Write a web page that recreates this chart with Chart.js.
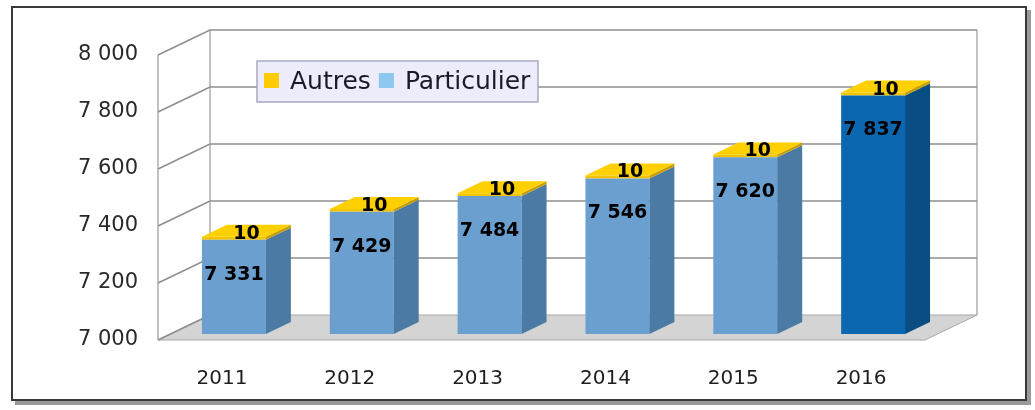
<!DOCTYPE html>
<html lang="fr">
<head>
<meta charset="utf-8">
<script src="https://cdn.jsdelivr.net/npm/chart.js@4/dist/chart.umd.min.js"></script>
<style>
html, body { margin: 0; padding: 0; background: #fff; }
#wrap { position: relative; width: 1035px; height: 410px; }
#frame { position: absolute; left: 11px; top: 6px; width: 1012px; height: 391px; border: 2px solid #3a3a3a; box-shadow: 4px 4px 0 #9a9a9a; pointer-events: none; }
canvas { position: absolute; left: 0; top: 0; }
</style>
</head>
<body>
<div id="wrap">
  <canvas id="chart" width="1035" height="410"></canvas>
  <div id="frame"></div>
</div>
<script>
// Données
const annees = ['2011', '2012', '2013', '2014', '2015', '2016'];
const particulier = [7331, 7429, 7484, 7546, 7620, 7837];
const autres = [10, 10, 10, 10, 10, 10];
const yTicks = [7000, 7200, 7400, 7600, 7800, 8000];

// Effet 3D (profondeur des murs, décalage des barres)
const depth = { dx: 52, dy: -25 };
const barShift = { dx: 12, dy: -6 };
const barDepth = { dx: 25, dy: -12 };

function fmt(v) {
    return String(v).replace(/\B(?=(\d{3})+(?!\d))/g, ' ');
}

// couleurs : la dernière année est en bleu foncé
const frontColors = annees.map((a, i) => i === annees.length - 1 ? '#0B68B0' : '#6B9FCF');
const sideColors = annees.map((a, i) => i === annees.length - 1 ? '#084D84' : '#4B7AA4');

const threeD = {
    id: 'threeD',
    beforeDatasetsDraw(chart) {
        const { ctx, chartArea } = chart;
        const { left, right, top, bottom } = chartArea;
        const y = chart.scales.y;
        ctx.save();
        // sol
        ctx.fillStyle = '#d4d4d4';
        ctx.strokeStyle = '#a8a8a8';
        ctx.lineWidth = 1;
        ctx.beginPath();
        ctx.moveTo(left, bottom);
        ctx.lineTo(right, bottom);
        ctx.lineTo(right + depth.dx, bottom + depth.dy);
        ctx.lineTo(left + depth.dx, bottom + depth.dy);
        ctx.closePath();
        ctx.fill();
        ctx.stroke();
        // quadrillage
        ctx.strokeStyle = '#8e8e8e';
        ctx.lineWidth = 1.6;
        yTicks.forEach(v => {
            const yp = y.getPixelForValue(v);
            ctx.beginPath();
            ctx.moveTo(left, yp);
            ctx.lineTo(left + depth.dx, yp + depth.dy);
            if (v !== yTicks[0]) ctx.lineTo(right + depth.dx, yp + depth.dy);
            ctx.stroke();
        });
        ctx.lineWidth = 1.2;
        ctx.strokeStyle = '#9a9a9a';
        ctx.beginPath();
        ctx.moveTo(left, top);
        ctx.lineTo(left, bottom);
        ctx.moveTo(left + depth.dx, top + depth.dy);
        ctx.lineTo(left + depth.dx, bottom + depth.dy);
        ctx.moveTo(right + depth.dx, top + depth.dy);
        ctx.lineTo(right + depth.dx, bottom + depth.dy);
        ctx.stroke();
        ctx.restore();
        // les faces avant sont dessinées par Chart.js, décalées
        ctx.save();
        ctx.translate(barShift.dx, barShift.dy);
    },
    afterDatasetsDraw(chart) {
        const { ctx } = chart;
        ctx.restore();
        const n = chart.data.datasets.length;
        const floor = chart.chartArea.bottom;
        chart.data.datasets.forEach((ds, di) => {
            const meta = chart.getDatasetMeta(di);
            meta.data.forEach((el, i) => {
                const w = el.width;
                const x1 = el.x + w / 2 + barShift.dx;
                const x0 = el.x - w / 2 + barShift.dx;
                const t = el.y + barShift.dy;
                const b = Math.min(el.base, floor) + barShift.dy;
                const side = Array.isArray(ds.sideColor) ? ds.sideColor[i] : ds.sideColor;
                ctx.fillStyle = side;
                ctx.beginPath();
                ctx.moveTo(x1, t);
                ctx.lineTo(x1 + barDepth.dx, t + barDepth.dy);
                ctx.lineTo(x1 + barDepth.dx, b + barDepth.dy);
                ctx.lineTo(x1, b);
                ctx.closePath();
                ctx.fill();
                if (di === n - 1) {
                    ctx.fillStyle = ds.topColor;
                    ctx.beginPath();
                    ctx.moveTo(x0, t);
                    ctx.lineTo(x1, t);
                    ctx.lineTo(x1 + barDepth.dx, t + barDepth.dy);
                    ctx.lineTo(x0 + barDepth.dx, t + barDepth.dy);
                    ctx.closePath();
                    ctx.fill();
                }
            });
        });
        // étiquettes
        ctx.save();
        ctx.fillStyle = '#000';
        ctx.textAlign = 'center';
        ctx.textBaseline = 'middle';
        ctx.font = 'bold 19px "DejaVu Sans"';
        const mP = chart.getDatasetMeta(0);
        mP.data.forEach((el, i) => {
            ctx.fillText(fmt(particulier[i]), el.x + barShift.dx, el.y + barShift.dy + 35);
        });
        const mA = chart.getDatasetMeta(1);
        mA.data.forEach((el, i) => {
            ctx.fillText(fmt(autres[i]), el.x + barShift.dx + barDepth.dx / 2, el.y + barShift.dy + barDepth.dy / 2 + 3);
        });
        ctx.restore();
    },
    afterDraw(chart) {
        // légende
        const { ctx } = chart;
        ctx.save();
        ctx.fillStyle = '#ECECFA';
        ctx.strokeStyle = '#A9A9C2';
        ctx.lineWidth = 1.5;
        ctx.fillRect(257, 61, 281, 41);
        ctx.strokeRect(257, 61, 281, 41);
        ctx.font = '25px "DejaVu Sans"';
        ctx.textBaseline = 'middle';
        let x = 264;
        chart.data.datasets.slice().reverse().forEach(ds => {
            ctx.fillStyle = ds.legendColor;
            ctx.fillRect(x, 73, 15, 15);
            ctx.fillStyle = '#1a1a2a';
            ctx.fillText(ds.label, x + 26, 82);
            x += 26 + ctx.measureText(ds.label).width + 8;
        });
        ctx.restore();
    }
};

new Chart(document.getElementById('chart'), {
    type: 'bar',
    data: {
        labels: annees,
        datasets: [
            {
                label: 'Particulier',
                data: particulier,
                backgroundColor: frontColors,
                sideColor: sideColors,
                legendColor: '#8CC8F0',
                barPercentage: 0.5,
                categoryPercentage: 1.0
            },
            {
                label: 'Autres',
                data: autres,
                backgroundColor: '#F5C400',
                sideColor: '#C89E00',
                topColor: '#FFD000',
                legendColor: '#FFCC00',
                barPercentage: 0.5,
                categoryPercentage: 1.0
            }
        ]
    },
    options: {
        responsive: false,
        animation: false,
        devicePixelRatio: 1,
        layout: { padding: { top: 55, right: 110, bottom: 0, left: 0 } },
        plugins: {
            legend: { display: false },
            tooltip: { enabled: false }
        },
        scales: {
            x: {
                stacked: true,
                grid: { display: false, drawTicks: false },
                border: { display: false },
                ticks: { color: '#1e1e1e', font: { family: 'DejaVu Sans', size: 20 }, padding: 27 },
                afterFit(s) { s.height = 70; }
            },
            y: {
                stacked: true,
                min: 7000,
                max: 8000,
                grid: { display: false, drawTicks: false },
                border: { display: false },
                ticks: {
                    stepSize: 200,
                    color: '#2a2a2a',
                    padding: 20,
                    font: { family: 'DejaVu Sans', size: 21 },
                    callback: v => fmt(v)
                },
                afterFit(s) { s.width = 158; }
            }
        }
    },
    plugins: [threeD]
});
</script>
</body>
</html>
